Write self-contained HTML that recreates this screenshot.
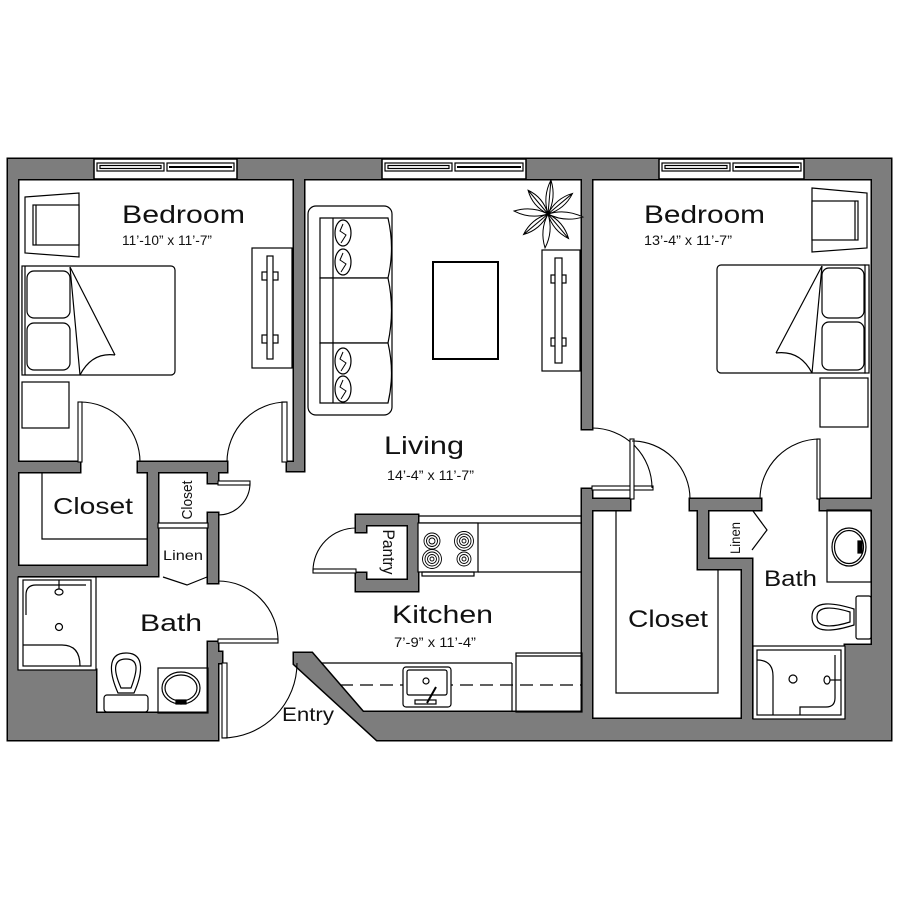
<!DOCTYPE html>
<html><head><meta charset="utf-8"><style>
html,body{margin:0;padding:0;background:#fff;}
svg{display:block;}
text{font-family:"Liberation Sans",sans-serif;fill:#111;}
</style></head><body>
<svg width="900" height="900" viewBox="0 0 900 900" xmlns="http://www.w3.org/2000/svg">
<defs>
<g id="walls">
  <rect x="8" y="159" width="883" height="20"/>
  <rect x="8" y="159" width="10" height="581"/>
  <rect x="872" y="159" width="19" height="581"/>
  <polygon points="294,179 304,179 304,471 287,471 287,462 294,462"/>
  <rect x="18" y="462" width="62" height="10"/>
  <rect x="138" y="462" width="89" height="10"/>
  <rect x="148" y="472" width="10" height="104"/>
  <rect x="18" y="566" width="140" height="10"/>
  <rect x="208" y="472" width="10" height="11"/>
  <rect x="208" y="513" width="10" height="70"/>
  <rect x="208" y="642" width="10" height="98"/>
  <rect x="218" y="652" width="4" height="11"/>
  <polygon points="8,670 96,670 96,713 218,713 218,740 8,740"/>
  <polygon points="294,653 312,653 363,712 582,712 582,740 377,740 294,664"/>
  <rect x="582" y="179" width="10" height="250"/>
  <polygon points="582,489 592,489 592,499 630,499 630,510 592,510 592,740 582,740"/>
  <rect x="690" y="499" width="71" height="11"/>
  <polygon points="698,510 708,510 708,559 752,559 752,719 742,719 742,569 698,569"/>
  <rect x="820" y="499" width="52" height="11"/>
  <rect x="582" y="719" width="309" height="21"/>
  <rect x="845" y="645" width="46" height="95"/>
  <polygon points="356,515 418,515 418,591 356,591 356,573 366,573 366,580 408,580 408,525 366,525 366,532 356,532"/>
</g>
</defs>
<use href="#walls" fill="#000" stroke="#000" stroke-width="3" stroke-linejoin="miter"/>
<use href="#walls" fill="#7d7d7d"/>

<!-- windows -->
<g stroke="#000" stroke-width="1.2">
  <rect x="94" y="159" width="143" height="20" fill="#fff" stroke-width="1.5"/>
  <rect x="97" y="163" width="67" height="8" fill="#fff"/>
  <rect x="100" y="165.5" width="61" height="3" fill="none"/>
  <rect x="167" y="163" width="67" height="8" fill="#fff"/>
  <line x1="169" y1="167" x2="232" y2="167" stroke-width="2"/>
  <rect x="382" y="159" width="144" height="20" fill="#fff" stroke-width="1.5"/>
  <rect x="385" y="163" width="67" height="8" fill="#fff"/>
  <rect x="388" y="165.5" width="61" height="3" fill="none"/>
  <rect x="455" y="163" width="68" height="8" fill="#fff"/>
  <line x1="457" y1="167" x2="521" y2="167" stroke-width="2"/>
  <rect x="659" y="159" width="145" height="20" fill="#fff" stroke-width="1.5"/>
  <rect x="662" y="163" width="68" height="8" fill="#fff"/>
  <rect x="665" y="165.5" width="62" height="3" fill="none"/>
  <rect x="733" y="163" width="68" height="8" fill="#fff"/>
  <line x1="735" y1="167" x2="799" y2="167" stroke-width="2"/>
</g>

<!-- doors -->
<g stroke="#000" stroke-width="1.1" fill="none">
  <rect x="78" y="402" width="4" height="60" fill="#fff"/>
  <path d="M80,402 A60,60 0 0 1 140,462"/>
  <rect x="282" y="402" width="5" height="60" fill="#fff"/>
  <path d="M287,402 A60,60 0 0 0 227,462"/>
  <rect x="218" y="481" width="32" height="4" fill="#fff"/>
  <path d="M250,483 A32,32 0 0 1 218,515"/>
  <rect x="218" y="639" width="60" height="4" fill="#fff"/>
  <path d="M278,641 A60,60 0 0 0 218,581"/>
  <rect x="222" y="663" width="5" height="75" fill="#fff"/>
  <path d="M222,738 A75,75 0 0 0 297,663"/>
  <rect x="313" y="569" width="43" height="4" fill="#fff"/>
  <path d="M313,571 A43,43 0 0 1 356,528"/>
  <rect x="592" y="486" width="61" height="4" fill="#fff"/>
  <path d="M592,428 A60,60 0 0 1 652,488"/>
  <rect x="630" y="439" width="4" height="60" fill="#fff"/>
  <path d="M632,441 A58,58 0 0 1 690,499"/>
  <rect x="817" y="439" width="3" height="60" fill="#fff"/>
  <path d="M820,439 A60,60 0 0 0 760,499"/>
</g>

<!-- furniture & fixtures -->
<g stroke="#000" stroke-width="1.2" fill="none">
  <!-- left bedroom -->
  <polygon points="25,197 79,193 79,257 25,253" fill="#fff"/>
  <rect x="33" y="205" width="46" height="40" fill="#fff"/>
  <line x1="36" y1="205" x2="36" y2="245"/>
  <rect x="22" y="266" width="153" height="109" rx="4" fill="#fff"/>
  <rect x="22" y="266" width="3" height="109" fill="#fff"/>
  <rect x="27" y="271" width="43" height="47" rx="7"/>
  <rect x="27" y="323" width="43" height="47" rx="7"/>
  <path d="M70,267 L80,375 M70,267 L115,355 M115,355 Q92,352 80,375"/>
  <rect x="22" y="382" width="47" height="46"/>
  <rect x="252" y="248" width="40" height="120"/>
  <rect x="262" y="272" width="16" height="8"/>
  <rect x="262" y="335" width="16" height="8"/>
  <rect x="267" y="256" width="6" height="103" fill="#fff"/>
  <!-- left closet shelf -->
  <polyline points="42,472 42,539 148,539"/>
  <rect x="158" y="523" width="50" height="5" fill="#fff"/>
  <polyline points="163,577 187,585 207,577"/>
  <!-- left bath -->
  <rect x="18" y="577" width="78" height="93" fill="#fff"/>
  <rect x="23" y="580" width="68" height="86"/>
  <path d="M26,615 V595 Q26,585 36,585 H86"/>
  <path d="M23,645 H62 Q80,645 80,666"/>
  <ellipse cx="59" cy="592" rx="4" ry="3"/>
  <line x1="59" y1="580" x2="59" y2="589"/>
  <circle cx="59" cy="627" r="3.5"/>
  <rect x="104" y="695" width="44" height="17" rx="3" fill="#fff"/>
  <path d="M118,693 C110,675 106,653 126,653 C146,653 142,675 134,693 Z" fill="#fff"/>
  <path d="M121,688 C114,672 112,659 126,659 C140,659 137,672 131,688 Z"/>
  <rect x="158" y="668" width="50" height="45"/>
  <ellipse cx="181" cy="688" rx="19" ry="16"/>
  <ellipse cx="181" cy="688" rx="16" ry="13"/>
  <rect x="176" y="700" width="10" height="4" fill="#000"/>
  <!-- living -->
  <rect x="308" y="206" width="84" height="209" rx="8" fill="#fff"/>
  <path d="M320,218 H388 Q395,248 388,278 H320 Z" fill="#fff"/>
  <path d="M320,278 H388 Q395,310 388,343 H320 Z" fill="#fff"/>
  <path d="M320,343 H388 Q395,373 388,403 H320 Z" fill="#fff"/>
  <line x1="333" y1="218" x2="333" y2="403"/>
  <ellipse cx="343" cy="233" rx="8" ry="13"/>
  <ellipse cx="343" cy="262" rx="8" ry="13"/>
  <ellipse cx="343" cy="361" rx="8" ry="13"/>
  <ellipse cx="343" cy="389" rx="8" ry="13"/>
  <polyline points="343,224 340,231 346,235 341,243" stroke-width="1"/>
  <polyline points="343,253 340,260 346,264 341,272" stroke-width="1"/>
  <polyline points="343,352 340,359 346,363 341,371" stroke-width="1"/>
  <polyline points="343,380 340,387 346,391 341,399" stroke-width="1"/>
  <rect x="433" y="262" width="65" height="97" stroke-width="2"/>
  <rect x="542" y="250" width="38" height="121" fill="#fff"/>
  <rect x="551" y="275" width="15" height="8"/>
  <rect x="551" y="338" width="15" height="8"/>
  <rect x="555" y="258" width="7" height="105" fill="#fff"/>
  <g transform="translate(548,214)" fill="#fff" stroke-width="1">
    <path d="M0,0 Q7,-17 0,-34 Q-7,-17 0,0 Z M0,0 V-34" transform="rotate(5)"/>
    <path d="M0,0 Q7,-16 0,-32 Q-7,-16 0,0 Z M0,0 V-32" transform="rotate(50)"/>
    <path d="M0,0 Q7,-17 0,-35 Q-7,-17 0,0 Z" transform="rotate(95)"/>
    <path d="M0,0 Q7,-16 0,-32 Q-7,-16 0,0 Z M0,0 V-32" transform="rotate(140)"/>
    <path d="M0,0 Q7,-17 0,-34 Q-7,-17 0,0 Z" transform="rotate(185)"/>
    <path d="M0,0 Q7,-16 0,-32 Q-7,-16 0,0 Z M0,0 V-32" transform="rotate(230)"/>
    <path d="M0,0 Q7,-17 0,-34 Q-7,-17 0,0 Z" transform="rotate(275)"/>
    <path d="M0,0 Q7,-16 0,-31 Q-7,-16 0,0 Z M0,0 V-31" transform="rotate(320)"/>
  </g>
  <!-- kitchen -->
  <line x1="418" y1="516" x2="582" y2="516"/>
  <line x1="418" y1="523" x2="582" y2="523"/>
  <line x1="478" y1="572" x2="582" y2="572"/>
  <rect x="418" y="523" width="60" height="49" fill="#fff"/>
  <rect x="422" y="572" width="52" height="4"/>
  <g stroke-width="0.9">
    <circle cx="432" cy="541" r="8"/><circle cx="432" cy="541" r="5.5"/><circle cx="432" cy="541" r="3"/>
    <circle cx="464" cy="541" r="9.5"/><circle cx="464" cy="541" r="7"/><circle cx="464" cy="541" r="4.5"/><circle cx="464" cy="541" r="2"/>
    <circle cx="432" cy="559" r="9.5"/><circle cx="432" cy="559" r="7"/><circle cx="432" cy="559" r="4.5"/><circle cx="432" cy="559" r="2"/>
    <circle cx="464" cy="559" r="7"/><circle cx="464" cy="559" r="4.5"/><circle cx="464" cy="559" r="2"/>
  </g>
  <line x1="321" y1="663" x2="512" y2="663"/>
  <line x1="512" y1="663" x2="512" y2="712"/>
  <rect x="516" y="653" width="66" height="59"/>
  <line x1="516" y1="656" x2="582" y2="656"/>
  <line x1="340" y1="685" x2="582" y2="685" stroke-dasharray="13,7"/>
  <rect x="403" y="667" width="48" height="40" rx="3" fill="#fff"/>
  <rect x="407" y="670" width="40" height="25" rx="2"/>
  <circle cx="426" cy="681" r="3"/>
  <line x1="436" y1="687" x2="427" y2="703" stroke-width="2"/>
  <rect x="415" y="700" width="21" height="4"/>
  <!-- right bedroom -->
  <polygon points="812,188 867,193 867,248 812,252" fill="#fff"/>
  <rect x="812" y="201" width="46" height="39" fill="#fff"/>
  <line x1="855" y1="201" x2="855" y2="240"/>
  <rect x="717" y="265" width="152" height="108" rx="4" fill="#fff"/>
  <rect x="865" y="265" width="4" height="108" fill="#fff"/>
  <rect x="822" y="268" width="42" height="50" rx="7"/>
  <rect x="822" y="322" width="42" height="48" rx="7"/>
  <path d="M822,266 L812,373 M822,266 L776,353 M776,353 Q800,350 812,373"/>
  <rect x="820" y="378" width="48" height="49"/>
  <!-- right closet -->
  <polyline points="616,510 616,693 718,693 718,569"/>
  <polyline points="753,511 767,530 752,550"/>
  <!-- right bath -->
  <rect x="827" y="510" width="44" height="72"/>
  <ellipse cx="849" cy="547" rx="17" ry="19"/>
  <ellipse cx="849" cy="547" rx="14.5" ry="16.5"/>
  <rect x="858" y="541" width="4" height="12" fill="#000"/>
  <rect x="856" y="596" width="15" height="43" rx="2" fill="#fff"/>
  <path d="M854,609 C835,603 812,599 812,617 C812,635 835,631 854,625 Z" fill="#fff"/>
  <path d="M850,612 C834,607 817,605 817,617 C817,629 834,627 850,622 Z"/>
  <rect x="753" y="646" width="92" height="73" fill="#fff"/>
  <rect x="757" y="650" width="84" height="65"/>
  <path d="M757,660 Q773,660 773,676 V715"/>
  <path d="M835,655 V698 Q835,707 826,707 H800 V715"/>
  <circle cx="793" cy="679" r="4"/>
  <ellipse cx="827" cy="680" rx="3" ry="4"/>
  <line x1="830" y1="680" x2="841" y2="680"/>
</g>

<!-- labels -->
<text x="122" y="223" font-size="25" textLength="123" lengthAdjust="spacingAndGlyphs">Bedroom</text>
<text x="122" y="245" font-size="13.5" textLength="90" lengthAdjust="spacingAndGlyphs">11’-10” x 11’-7”</text>
<text x="384" y="454" font-size="25" textLength="80" lengthAdjust="spacingAndGlyphs">Living</text>
<text x="387" y="480" font-size="13.5" textLength="87" lengthAdjust="spacingAndGlyphs">14’-4” x 11’-7”</text>
<text x="392" y="623" font-size="25" textLength="101" lengthAdjust="spacingAndGlyphs">Kitchen</text>
<text x="394" y="647" font-size="13.5" textLength="82" lengthAdjust="spacingAndGlyphs">7’-9” x 11’-4”</text>
<text x="644" y="223" font-size="25" textLength="121" lengthAdjust="spacingAndGlyphs">Bedroom</text>
<text x="644" y="245" font-size="13.5" textLength="88" lengthAdjust="spacingAndGlyphs">13’-4” x 11’-7”</text>
<text x="53" y="514" font-size="23" textLength="80" lengthAdjust="spacingAndGlyphs">Closet</text>
<text x="140" y="631" font-size="24" textLength="62" lengthAdjust="spacingAndGlyphs">Bath</text>
<text x="282" y="721" font-size="19" textLength="52" lengthAdjust="spacingAndGlyphs">Entry</text>
<text x="628" y="627" font-size="24" textLength="80" lengthAdjust="spacingAndGlyphs">Closet</text>
<text x="764" y="586" font-size="22" textLength="53" lengthAdjust="spacingAndGlyphs">Bath</text>
<text x="163" y="560" font-size="14" textLength="40" lengthAdjust="spacingAndGlyphs">Linen</text>
<text transform="translate(192,500) rotate(-90)" text-anchor="middle" font-size="15" textLength="39" lengthAdjust="spacingAndGlyphs">Closet</text>
<text transform="translate(383,552) rotate(90)" text-anchor="middle" font-size="17" textLength="45" lengthAdjust="spacingAndGlyphs">Pantry</text>
<text transform="translate(740,538) rotate(-90)" text-anchor="middle" font-size="14" textLength="32" lengthAdjust="spacingAndGlyphs">Linen</text>
</svg>
</body></html>
